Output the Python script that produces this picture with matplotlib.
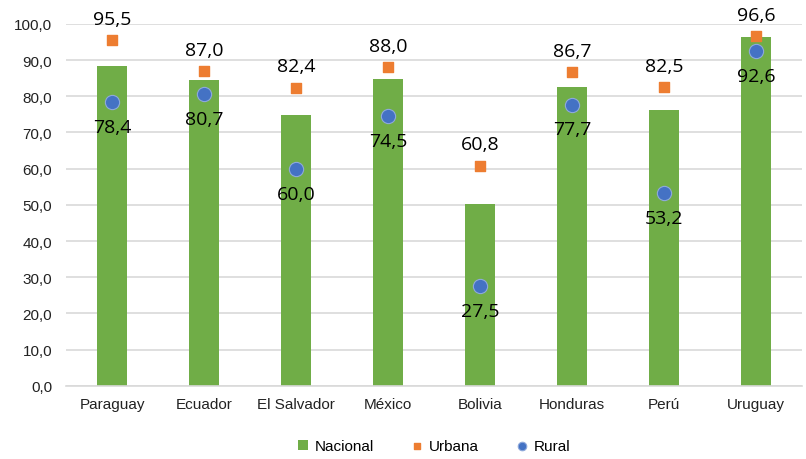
import matplotlib.pyplot as plt
import numpy as np

paises = ['Paraguay', 'Ecuador', 'El Salvador', 'México', 'Bolivia', 'Honduras', 'Perú', 'Uruguay']
nacional = [88.4, 84.6, 74.7, 84.9, 50.3, 82.6, 76.1, 96.4]
urbana = [95.5, 87.0, 82.4, 88.0, 60.8, 86.7, 82.5, 96.6]
rural = [78.4, 80.7, 60.0, 74.5, 27.5, 77.7, 53.2, 92.6]

def fmt(v):
    return f'{v:.1f}'.replace('.', ',')

plt.rcParams['font.family'] = ['Liberation Sans', 'DejaVu Sans']
fig = plt.figure(figsize=(8.06, 4.6), dpi=100)
ax = fig.add_axes([0.082, 0.159, 0.913, 0.787])

x = np.arange(len(paises))
b = ax.bar(x, nacional, width=0.32, color='#70ad47', label='Nacional', zorder=2)
u = ax.scatter(x, urbana, marker='s', s=50, color='#ed7d31', label='Urbana', zorder=3)
r = ax.scatter(x, rural, marker='o', s=105, color='#4472c4', edgecolors='#8ea9db',
               linewidths=0.8, label='Rural', zorder=3)

for i in range(len(paises)):
    ax.text(x[i], urbana[i] + 3.4, fmt(urbana[i]), ha='center', va='bottom',
            fontsize=14, family='Open Sans', zorder=4)
    ax.text(x[i], rural[i] - 4.4, fmt(rural[i]), ha='center', va='top',
            fontsize=14, family='Open Sans', zorder=4)

ax.set_ylim(0, 100)
ax.set_xlim(-0.5, len(paises) - 0.5)
ax.set_yticks(np.arange(0, 101, 10))
ax.set_yticklabels([fmt(v) for v in np.arange(0, 101, 10)])
ax.set_xticks(x)
ax.set_xticklabels(paises)
ax.tick_params(axis='both', length=0, labelsize=11, colors='#222222')
ax.tick_params(axis='x', pad=8)
ax.tick_params(axis='y', pad=10)
ax.grid(axis='y', color='#d9d9d9', linewidth=1.2, zorder=0)
for s in ['top', 'right', 'left']:
    ax.spines[s].set_visible(False)
ax.spines['bottom'].set_color('#d9d9d9')
ax.spines['bottom'].set_linewidth(1.2)

leg = ax.legend([b, u, r], ['Nacional', 'Urbana', 'Rural'], loc='upper center',
                bbox_to_anchor=(0.5, -0.11), ncol=3, frameon=False, fontsize=11,
                handlelength=0.7, columnspacing=2.5, handletextpad=0.4,
                markerscale=0.6)

fig.savefig('out.png', dpi=100)
